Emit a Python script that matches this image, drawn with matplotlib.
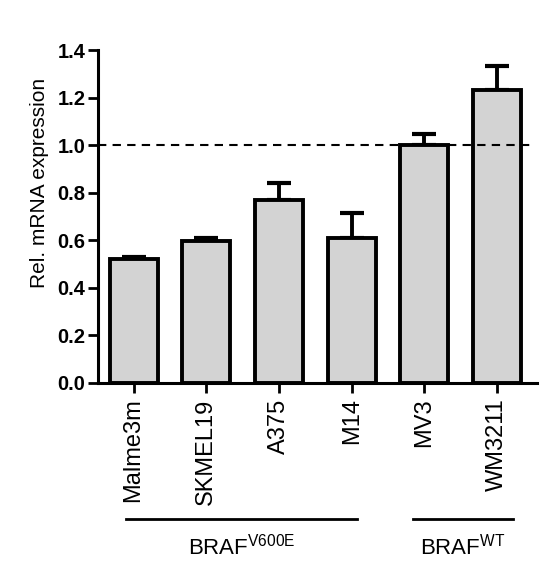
import matplotlib
matplotlib.use("Agg")
import matplotlib.pyplot as plt
import matplotlib.transforms as mtransforms
import numpy as np

plt.rcParams['font.family'] = ['Liberation Sans', 'DejaVu Sans']
plt.rcParams['mathtext.fontset'] = 'custom'
plt.rcParams['mathtext.rm'] = 'Liberation Sans'

cell_lines = ["Malme3m", "SKMEL19", "A375", "M14", "MV3", "WM3211"]
expression = [0.52, 0.598, 0.769, 0.608, 1.00, 1.232]
sem = [0.01, 0.01, 0.07, 0.108, 0.045, 0.10]
yticks = [0.0, 0.2, 0.4, 0.6, 0.8, 1.0, 1.2, 1.4]
groups = [r"$\mathregular{BRAF^{V600E}}$", r"$\mathregular{BRAF^{WT}}$"]
group_spans = [(-0.1, 3.08), (3.84, 5.22)]

fig = plt.figure(figsize=(5.55, 5.65), dpi=100)
ax = fig.add_axes([98/555, 1-383/565, (537-98)/555, (383-50)/565])

x = np.arange(len(cell_lines))
ax.bar(x, expression, width=0.66, color="#d3d3d3", edgecolor="black",
       linewidth=2.8, zorder=2)
ax.errorbar(x, expression, yerr=[np.zeros(len(sem)), sem], fmt="none",
            ecolor="black", elinewidth=2.8, capsize=8.5, capthick=3.0, zorder=1)
ax.axhline(1.0, xmin=0, xmax=0.984, color="black", linestyle=(0, (4, 3)),
           linewidth=1.5, zorder=3)

ax.set_xlim(-0.49, 5.55)
ax.set_ylim(0, 1.4)
ax.set_yticks(yticks)
ax.set_yticklabels([f"{t:.1f}" for t in yticks], fontweight="bold", fontsize=14.5)
ax.set_xticks(x)
ax.set_xticklabels(cell_lines, rotation=90, fontsize=17)
ax.tick_params(axis="both", direction="out", length=7, width=2, pad=2)
ax.tick_params(axis="x", pad=4)
for s in ["top", "right"]:
    ax.spines[s].set_visible(False)
for s in ["left", "bottom"]:
    ax.spines[s].set_linewidth(2.2)
ax.set_ylabel("Rel. mRNA expression", fontsize=15)
ax.yaxis.set_label_coords(-0.112, 0.60)

trans = mtransforms.blended_transform_factory(ax.transData, ax.transAxes)
for label, (x0, x1) in zip(groups, group_spans):
    ax.plot([x0, x1], [-0.408, -0.408], color="black", linewidth=2,
            transform=trans, clip_on=False)
    ax.text((x0 + x1) / 2, -0.49, label, transform=trans, ha="center",
            va="center", fontsize=16)

fig.savefig("out.png", dpi=100)
